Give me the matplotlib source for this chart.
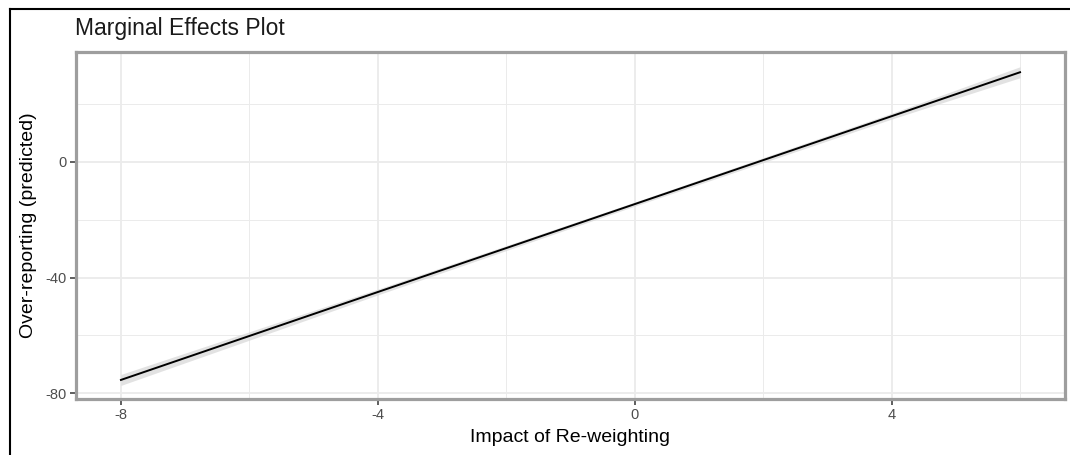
import matplotlib
matplotlib.use("Agg")
import matplotlib.pyplot as plt
from matplotlib.lines import Line2D

plt.rcParams['font.family'] = ['Liberation Sans', 'DejaVu Sans']

# Data
x_vals = [-8, -4, 0, 4, 6]
y_pred = [-75.4, -45.0, -14.6, 15.8, 31.0]
y_low = [-77.3, -46.0, -15.3, 14.8, 29.1]
y_high = [-73.5, -44.0, -13.9, 16.8, 32.9]

x_ticks = [-8, -4, 0, 4]
x_minor = [-6, -2, 2, 6]
y_ticks = [-80, -40, 0]
y_minor = [-60, -20, 20]

title = "Marginal Effects Plot"
xlabel = "Impact of Re-weighting"
ylabel = "Over-reporting (predicted)"

W, H = 1070, 455
fig = plt.figure(figsize=(W / 100, H / 100), dpi=100)
fig.patch.set_facecolor('white')

l, r, t, b = 76, 1065, 52, 399
ax = fig.add_axes([l / W, (H - b) / H, (r - l) / W, (b - t) / H])

grid_col = '#ebebeb'
for v in x_minor:
    ax.axvline(v, color=grid_col, lw=0.7, zorder=0)
for v in y_minor:
    ax.axhline(v, color=grid_col, lw=0.7, zorder=0)
for v in x_ticks:
    ax.axvline(v, color=grid_col, lw=1.3, zorder=0)
for v in y_ticks:
    ax.axhline(v, color=grid_col, lw=1.3, zorder=0)

ax.fill_between(x_vals, y_low, y_high, color='#d6d6d6', alpha=0.7, lw=0, zorder=2)
ax.plot(x_vals, y_pred, color='black', lw=1.4, zorder=3)

ax.set_xlim(-8.7, 6.7)
ax.set_ylim(-82, 38)
ax.set_xticks(x_ticks)
ax.set_xticklabels([str(v) for v in x_ticks])
ax.set_yticks(y_ticks)
ax.set_yticklabels([str(v) for v in y_ticks])
ax.tick_params(axis='both', length=4, width=1.1, color='#333333',
               labelcolor='#4d4d4d', labelsize=10.5, pad=2.5)

for s in ax.spines.values():
    s.set_color('#9e9e9e')
    s.set_linewidth(2.3)

ax.set_xlabel(xlabel, fontsize=14, color='black', labelpad=5)
ax.set_ylabel(ylabel, fontsize=14, color='black', labelpad=6.5)

fig.text(75 / W, 1 - 35 / H, title, fontsize=16.5, color='#1a1a1a',
         ha='left', va='baseline')

# outer crop border (left and top)
fig.add_artist(Line2D([9.5 / W, 9.5 / W], [0, 1 - 8.5 / H], transform=fig.transFigure,
                      color='black', lw=1.5))
fig.add_artist(Line2D([9.5 / W, 1], [1 - 8.5 / H, 1 - 8.5 / H], transform=fig.transFigure,
                      color='black', lw=1.5))

fig.savefig('out.png', dpi=100, facecolor='white')
